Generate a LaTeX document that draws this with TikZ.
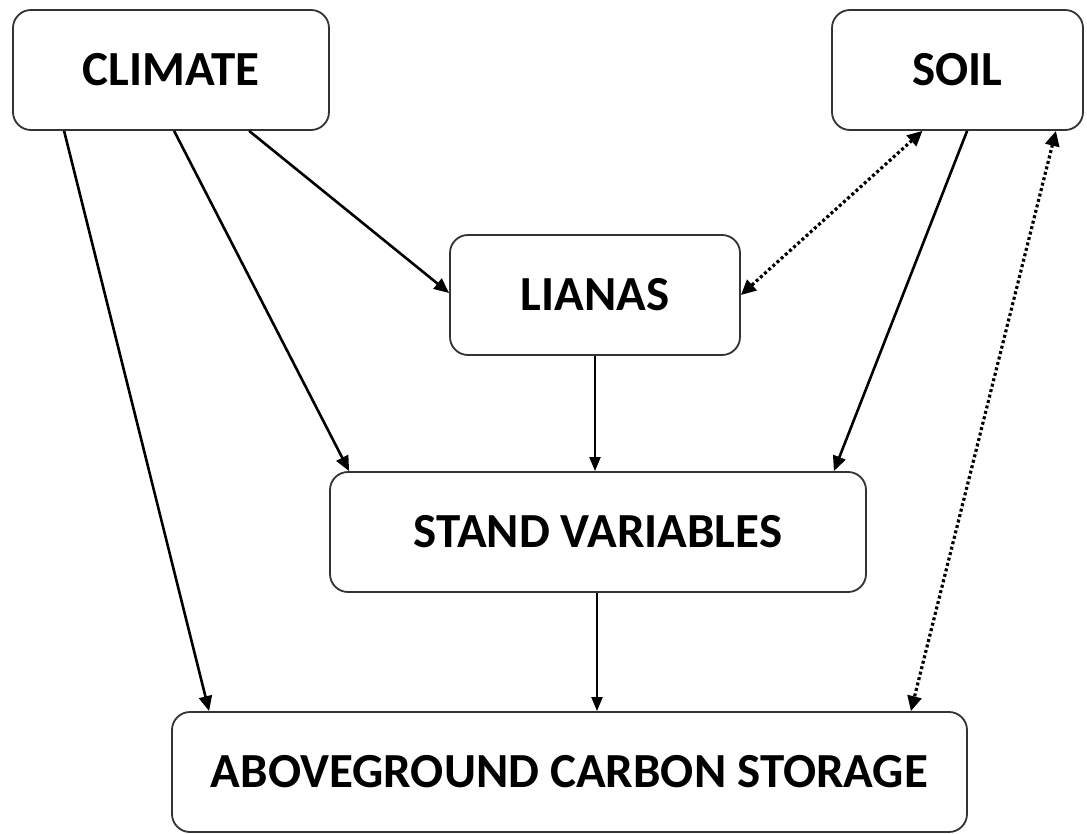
\documentclass[tikz,border=0pt]{standalone}
\usepackage{fontspec}
\setmainfont{Carlito}
\usetikzlibrary{arrows.meta}
\begin{document}
\begin{tikzpicture}[x=1pt,y=-1pt,
  box/.style={draw=black!80,line width=1.8pt,rounded corners=18pt,fill=white,
    inner sep=0pt,align=center,font=\fontsize{49}{52}\selectfont\bfseries},
  arr/.style={line width=2.6pt,-{Triangle[length=15pt,width=13pt]}},
  thinarr/.style={line width=2pt,-{Triangle[length=14pt,width=11pt]}},
  dotarr/.style={line width=3.2pt,dash pattern=on 3pt off 2.6pt,
    {Triangle[length=15pt,width=14pt]}-{Triangle[length=15pt,width=14pt]}}]
\useasboundingbox (0,0) rectangle (1087,834);
\node[box,minimum width=316pt,minimum height=120pt] (climate) at (171,70) {CLIMATE};
\node[box,minimum width=251pt,minimum height=120pt] (soil) at (957.5,70) {SOIL};
\node[box,minimum width=290pt,minimum height=120pt] (lianas) at (595,295) {LIANAS};
\node[box,minimum width=536pt,minimum height=120pt] (stand) at (598,532) {STAND VARIABLES};
\node[box,minimum width=795pt,minimum height=120pt] (above) at (569.5,772) {ABOVEGROUND CARBON STORAGE};
% connectors
\draw[arr] ([xshift=52pt]climate.south west) -- ([xshift=38pt]above.north west);
\draw[arr] ([xshift=162pt]climate.south west) -- ([xshift=20pt]stand.north west);
\draw[arr] ([xshift=237pt]climate.south west) -- ([yshift=2pt]lianas.west);
\draw[arr] ([xshift=136pt]soil.south west) -- ([xshift=-33pt]stand.north east);
\draw[dotarr] ([xshift=-35pt]soil.south) -- (lianas.east);
\draw[dotarr] ([xshift=-28pt]soil.south east) -- ([xshift=-57pt]above.north east);
\draw[thinarr] (lianas.south) -- (lianas.south |- stand.north);
\draw[thinarr] ([xshift=-1pt]stand.south) -- ([xshift=-1pt]stand.south |- above.north);
\end{tikzpicture}
\end{document}
